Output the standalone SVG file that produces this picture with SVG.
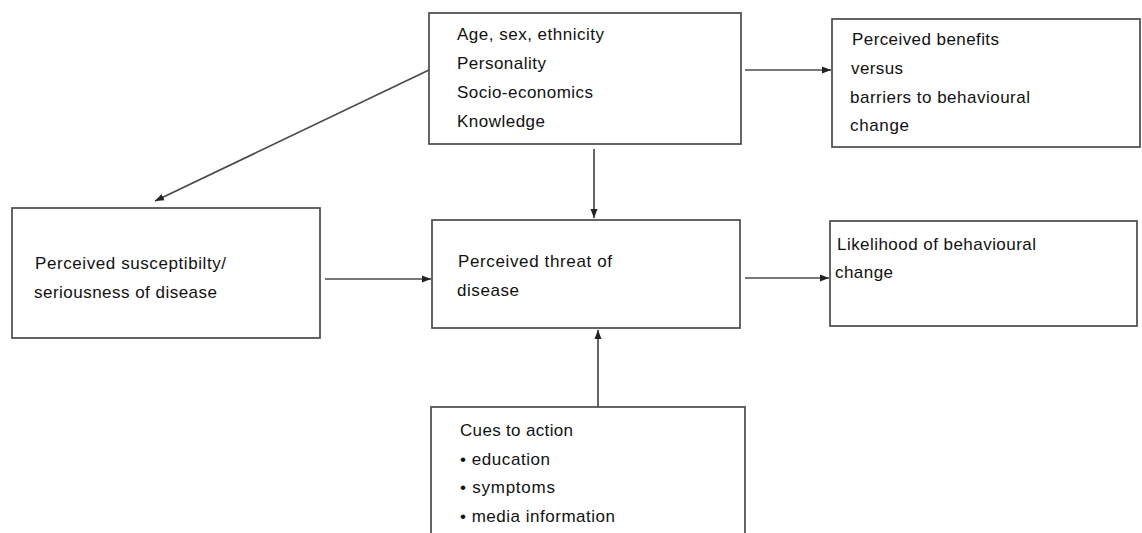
<svg xmlns="http://www.w3.org/2000/svg" width="1142" height="533" viewBox="0 0 1142 533">
<defs>
<marker id="ah" markerUnits="userSpaceOnUse" markerWidth="10" markerHeight="9" refX="9" refY="4.5" orient="auto">
<path d="M0,1 L9,4.5 L0,8 z" fill="#222"/>
</marker>
<style>
.box{fill:#fff;stroke:#4a4a4a;stroke-width:1.7}
.t{font-family:"Liberation Sans",Arial,sans-serif;font-size:17px;fill:#111}
.c{stroke:#4a4a4a;stroke-width:1.7;fill:none;marker-end:url(#ah)}
</style>
</defs>
<rect width="1142" height="533" fill="#fff"/>
<g id="connectors">
<line class="c" x1="745" y1="70" x2="831" y2="70"/>
<line class="c" x1="429" y1="70" x2="155" y2="201"/>
<line class="c" x1="594" y1="149" x2="594" y2="218"/>
<line class="c" x1="325" y1="279" x2="431" y2="279"/>
<line class="c" x1="745" y1="278" x2="829" y2="278"/>
<line class="c" x1="598" y1="407" x2="598" y2="330"/>
</g>
<g id="demographics">
<rect class="box" x="429" y="13" width="312" height="131"/>
<text class="t" x="457" y="40" textLength="147" lengthAdjust="spacing">Age, sex, ethnicity</text>
<text class="t" x="457" y="69" textLength="89" lengthAdjust="spacing">Personality</text>
<text class="t" x="457" y="98" textLength="136" lengthAdjust="spacing">Socio-economics</text>
<text class="t" x="457" y="127" textLength="88" lengthAdjust="spacing">Knowledge</text>
</g>
<g id="benefits">
<rect class="box" x="832" y="19" width="308" height="128"/>
<text class="t" x="852" y="45" textLength="147" lengthAdjust="spacing">Perceived benefits</text>
<text class="t" x="851" y="74" textLength="52" lengthAdjust="spacing">versus</text>
<text class="t" x="850" y="103" textLength="180" lengthAdjust="spacing">barriers to behavioural</text>
<text class="t" x="850" y="131" textLength="59" lengthAdjust="spacing">change</text>
</g>
<g id="susceptibility">
<rect class="box" x="12" y="208" width="308" height="130"/>
<text class="t" x="35" y="269" textLength="191" lengthAdjust="spacing">Perceived susceptibilty/</text>
<text class="t" x="34" y="298" textLength="183" lengthAdjust="spacing">seriousness of disease</text>
</g>
<g id="threat">
<rect class="box" x="432" y="220" width="308" height="108"/>
<text class="t" x="458" y="267" textLength="154" lengthAdjust="spacing">Perceived threat of</text>
<text class="t" x="457" y="296" textLength="62" lengthAdjust="spacing">disease</text>
</g>
<g id="likelihood">
<rect class="box" x="830" y="221" width="307" height="105"/>
<text class="t" x="837" y="250" textLength="199" lengthAdjust="spacing">Likelihood of behavioural</text>
<text class="t" x="835" y="278" textLength="58" lengthAdjust="spacing">change</text>
</g>
<g id="cues">
<rect class="box" x="431" y="407" width="314" height="140"/>
<text class="t" x="460" y="436" textLength="113" lengthAdjust="spacing">Cues to action</text>
<text class="t" x="460" y="465" textLength="90" lengthAdjust="spacing">• education</text>
<text class="t" x="460" y="493" textLength="95" lengthAdjust="spacing">• symptoms</text>
<text class="t" x="460" y="522" textLength="155" lengthAdjust="spacing">• media information</text>
</g>
</svg>
